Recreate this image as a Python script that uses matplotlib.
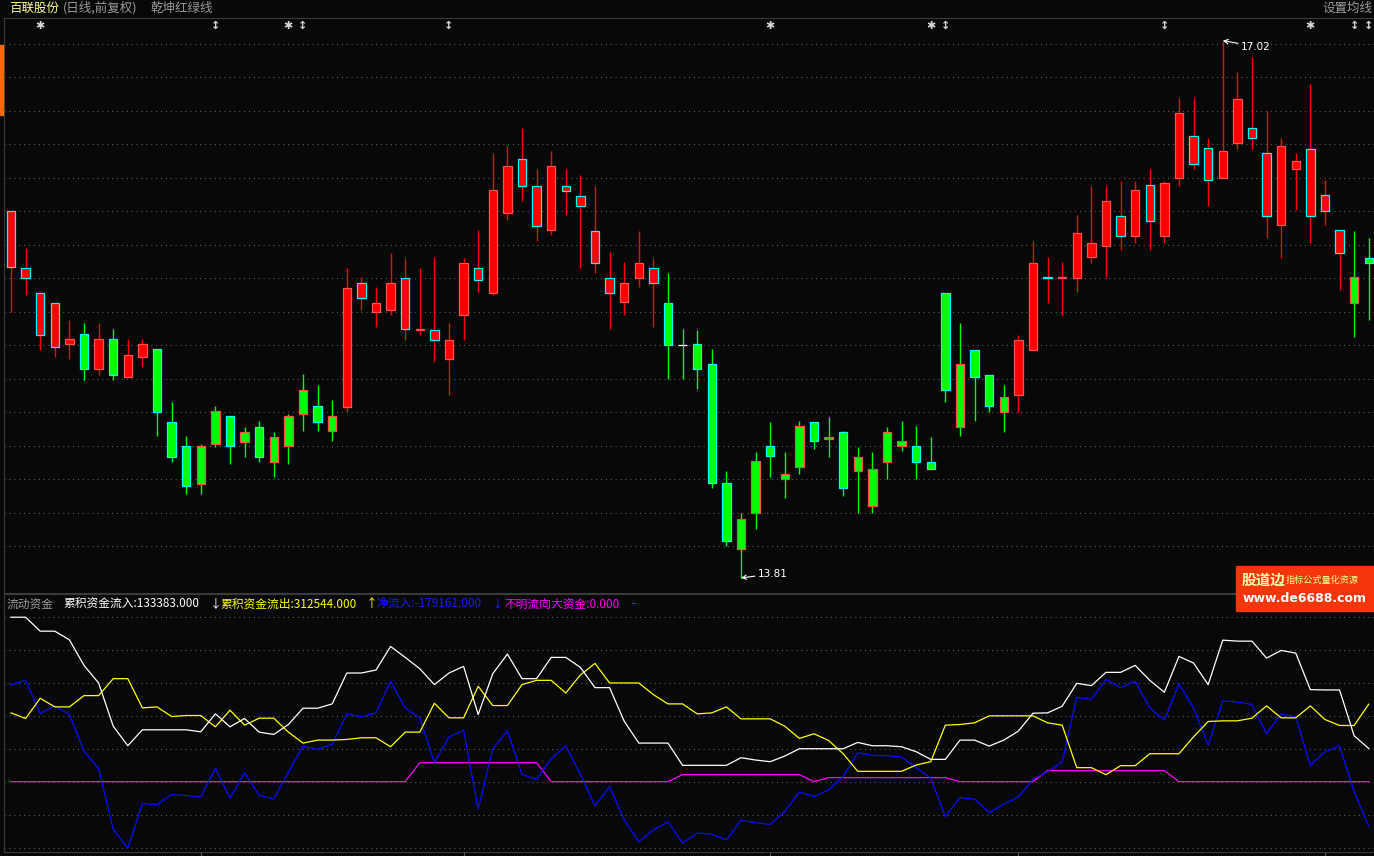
import numpy as np
import matplotlib.pyplot as plt
from matplotlib.patches import Rectangle

plt.rcParams['font.family'] = ['Noto Sans CJK SC', 'DejaVu Sans']

W, H = 1374, 856
BG = '#080808'

# ---- daily candles (price) ----
opens = [16.00, 15.66, 15.51, 15.45, 15.21, 15.27, 15.06, 15.24, 15.01, 15.13,
         15.18, 14.74, 14.60, 14.37, 14.61, 14.78, 14.62, 14.71, 14.50, 14.60,
         14.79, 14.84, 14.69, 14.83, 15.57, 15.40, 15.41, 15.60, 15.29, 15.29,
         15.12, 15.38, 15.66, 15.51, 15.99, 16.31, 16.15, 15.89, 16.15, 16.09,
         15.88, 15.60, 15.46, 15.60, 15.66, 15.45, 15.20, 15.21, 15.09, 14.38,
         13.98, 14.20, 14.60, 14.40, 14.47, 14.74, 14.64, 14.68, 14.45, 14.24,
         14.50, 14.60, 14.60, 14.50, 15.51, 14.71, 15.17, 15.02, 14.80, 14.90,
         15.17, 15.61, 15.60, 15.60, 15.73, 15.79, 15.97, 15.85, 16.16, 15.85,
         16.20, 16.45, 16.38, 16.20, 16.41, 16.50, 16.35, 15.92, 16.25, 16.37,
         16.10, 15.89, 15.45, 15.72]
highs = [16.00, 15.78, 15.52, 15.45, 15.35, 15.33, 15.33, 15.30, 15.24, 15.24,
         15.18, 14.86, 14.66, 14.61, 14.84, 14.78, 14.71, 14.75, 14.68, 14.79,
         15.03, 14.96, 14.87, 15.66, 15.61, 15.55, 15.75, 15.72, 15.66, 15.73,
         15.33, 15.72, 15.89, 16.35, 16.39, 16.50, 16.25, 16.36, 16.25, 16.22,
         16.15, 15.76, 15.70, 15.88, 15.72, 15.63, 15.30, 15.29, 15.18, 14.45,
         14.20, 14.56, 14.74, 14.56, 14.75, 14.74, 14.77, 14.69, 14.59, 14.56,
         14.71, 14.75, 14.72, 14.65, 15.51, 15.33, 15.17, 15.02, 14.96, 15.26,
         15.82, 15.73, 15.70, 15.98, 16.15, 16.15, 16.18, 16.18, 16.25, 16.18,
         16.68, 16.68, 16.44, 17.02, 16.83, 16.92, 16.60, 16.44, 16.35, 16.76,
         16.19, 15.89, 15.88, 15.84]
lows = [15.40, 15.50, 15.17, 15.13, 15.12, 14.99, 15.02, 14.99, 15.01, 15.07,
        14.66, 14.50, 14.31, 14.31, 14.59, 14.49, 14.53, 14.50, 14.41, 14.49,
        14.69, 14.69, 14.63, 14.80, 15.41, 15.31, 15.38, 15.23, 15.26, 15.10,
        14.90, 15.23, 15.52, 15.50, 15.95, 16.06, 15.82, 15.86, 15.98, 15.66,
        15.63, 15.30, 15.38, 15.55, 15.31, 15.00, 15.00, 14.94, 14.35, 14.00,
        13.81, 14.10, 14.41, 14.29, 14.43, 14.58, 14.53, 14.30, 14.20, 14.20,
        14.40, 14.57, 14.40, 14.46, 14.86, 14.66, 14.75, 14.80, 14.68, 14.80,
        15.17, 15.45, 15.38, 15.52, 15.69, 15.61, 15.77, 15.81, 15.77, 15.81,
        16.15, 16.25, 16.03, 16.20, 16.37, 16.37, 15.84, 15.72, 16.01, 15.81,
        15.92, 15.53, 15.25, 15.35]
closes = [15.67, 15.60, 15.26, 15.19, 15.24, 15.06, 15.24, 15.02, 15.14, 15.21,
          14.80, 14.53, 14.36, 14.60, 14.81, 14.60, 14.68, 14.53, 14.65, 14.78,
          14.93, 14.74, 14.78, 15.54, 15.48, 15.45, 15.57, 15.30, 15.30, 15.23,
          15.23, 15.69, 15.59, 16.13, 16.27, 16.15, 15.91, 16.27, 16.12, 16.03,
          15.69, 15.51, 15.57, 15.69, 15.57, 15.20, 15.20, 15.06, 14.38, 14.03,
          14.16, 14.51, 14.54, 14.43, 14.72, 14.63, 14.65, 14.35, 14.53, 14.46,
          14.68, 14.63, 14.50, 14.46, 14.93, 15.09, 15.01, 14.84, 14.89, 15.23,
          15.69, 15.60, 15.61, 15.87, 15.81, 16.06, 15.85, 16.13, 15.94, 16.17,
          16.59, 16.28, 16.19, 16.36, 16.67, 16.44, 15.97, 16.39, 16.30, 15.97,
          16.00, 15.75, 15.61, 15.69]
# red / green state of the 乾坤红绿线 indicator
trend_state = list("RRRRRGRGRR" "GGGGGGGGGGGGG" "RRRRRRRRRRRRRRRRRRRRRR"
                   "GGGGGGGGGGGGGGGGGGGGGGGG" "RRRRRRRRRRRRRRRRRRRRRRR" "GG")

marker_idx = [2, 14, 19, 20, 30, 52, 63, 64, 79, 89, 92, 93]
marker_sym = ['✱', '↕', '✱', '↕', '↕', '✱', '✱', '↕', '↕', '✱', '↕', '↕']
month_ticks = [13, 31, 52, 69, 90]

# ---- fund flow panel ----
inflow = [663300, 663300, 607020, 607020, 572180, 469000, 397980, 223780, 144720, 209040,
          209040, 209040, 209040, 201000, 273360, 221100, 254600, 199660, 190280, 230480,
          296140, 296140, 313560, 438180, 438180, 450240, 545380, 501160, 455600, 391280,
          438180, 464980, 270680, 435500, 514560, 415400, 415400, 501160, 501160, 460960,
          379220, 379220, 243880, 155440, 155440, 155440, 65660, 65660, 65660, 65660,
          96480, 87100, 80400, 103180, 132660, 132660, 132660, 132660, 158120, 144720,
          144720, 140700, 120600, 89780, 89780, 167500, 167500, 143380, 167500, 203680,
          276040, 277380, 304180, 396640, 387260, 440860, 440860, 469000, 408700, 360460,
          505180, 478380, 391280, 570840, 566820, 566820, 498480, 529300, 518580, 371180,
          369840, 369840, 184920, 133383]
outflow = [277380, 254600, 336340, 301500, 301500, 347060, 347060, 415400, 415400, 297480,
           301500, 262640, 266660, 266660, 221100, 288100, 227800, 255940, 255940, 199660,
           155440, 167500, 167500, 170180, 176880, 176880, 140700, 199660, 199660, 316240,
           257280, 257280, 384580, 306860, 306860, 391280, 408700, 408700, 357780, 430140,
           477040, 397980, 397980, 397980, 351080, 313560, 313560, 273360, 277380, 301500,
           253260, 253260, 253260, 223780, 174200, 192960, 166160, 112560, 41540, 41540,
           41540, 41540, 67000, 80400, 227800, 230480, 237180, 265320, 265320, 265320,
           265320, 237180, 227800, 56280, 56280, 28140, 64320, 64320, 112560, 112560,
           112560, 180900, 242540, 245220, 245220, 255940, 305520, 257280, 257280, 305520,
           250580, 226460, 226460, 312544]
netflow = [389940, 410040, 274700, 305520, 270680, 123280, 53600, -191620, -269340, -88440,
           -92460, -52260, -56280, -61640, 53600, -67000, 36180, -56280, -69680, 37520,
           143380, 129980, 150080, 273360, 261300, 277380, 404680, 297480, 257280, 76380,
           179560, 207700, -111220, 132660, 205020, 29480, 9380, 92460, 143380, 29480,
           -97820, -20100, -154100, -242540, -195640, -162140, -247900, -207700, -211720, -235840,
           -156780, -166160, -172860, -120600, -41540, -60300, -33500, 20100, 116580, 105860,
           104520, 99160, 56280, 13400, -140700, -64320, -71020, -124620, -91120, -61640,
           9380, 40200, 79060, 340360, 332320, 412720, 379220, 404680, 297480, 247900,
           393960, 297480, 147400, 325620, 321600, 310880, 192960, 273360, 261300, 65660,
           120600, 143380, -41540, -179161]
bigfund = [0, 0, 0, 0, 0, 0, 0, 0, 0, 0,
           0, 0, 0, 0, 0, 0, 0, 0, 0, 0,
           0, 0, 0, 0, 0, 0, 0, 0, 76380, 76380,
           76380, 76380, 76380, 76380, 76380, 76380, 76380, 0, 0, 0,
           0, 0, 0, 0, 0, 0, 28140, 28140, 28140, 28140,
           28140, 28140, 28140, 28140, 28140, 0, 16080, 16080, 16080, 16080,
           16080, 16080, 16080, 16080, 16080, 0, 0, 0, 0, 0,
           0, 44220, 44220, 44220, 44220, 44220, 44220, 44220, 44220, 44220,
           0, 0, 0, 0, 0, 0, 0, 0, 0, 0,
           0, 0, 0, 0]


def px(x, y):
    return x / W, 1 - y / H


def style_axes(ax):
    ax.set_facecolor(BG)
    ax.set_xlim(-0.48, 93.36)
    for s in ax.spines.values():
        s.set_color('#3a3a3a')
    ax.spines['right'].set_visible(False)
    ax.set_yticks([])
    ax.set_xticks([])


def main():
    fig = plt.figure(figsize=(W / 100, H / 100), dpi=100, facecolor=BG)
    ax1 = fig.add_axes([4 / W, 1 - 593 / H, (W - 4) / W, (593 - 18) / H])
    ax2 = fig.add_axes([4 / W, 1 - 852 / H, (W - 4) / W, (852 - 594) / H])
    style_axes(ax1)
    style_axes(ax2)

    o = np.array(opens)
    c = np.array(closes)
    x = np.arange(len(o))
    fills = ['#ff0000' if s == 'R' else '#00ff00' for s in trend_state]
    edges = ['#00ffff' if cc < oo else ('#ff5050' if cc > oo else '#ffffff')
             for oo, cc in zip(o, c)]

    ax1.set_ylim(13.72, 17.155)
    for p in np.arange(14.0, 17.01, 0.2):
        ax1.axhline(p, color='#5c5c5c', lw=0.8, ls=(0, (1, 3.4)), zorder=1)
    ax1.vlines(x, lows, highs, colors=fills, linewidth=1.0, zorder=2)
    ax1.bar(x, c - o, bottom=o, width=0.58, color=fills, edgecolor=edges,
            linewidth=0.9, zorder=3)

    for i, s in zip(marker_idx, marker_sym):
        ax1.text(i, 0.986, s, transform=ax1.get_xaxis_transform(), ha='center',
                 va='center', color='#d8d8d8', fontsize=8, fontweight='bold',
                 family='DejaVu Sans')

    hi = int(np.argmax(highs))
    lo = int(np.argmin(lows))
    ax1.annotate(f'{highs[hi]:.2f}', xy=(hi, highs[hi]), xytext=(13, -4.3),
                 textcoords='offset points', color='white', fontsize=7.5,
                 ha='left', va='center', family='DejaVu Sans',
                 arrowprops=dict(arrowstyle='->', color='white', lw=0.8,
                                 shrinkA=0, shrinkB=0))
    ax1.annotate(f'{lows[lo]:.2f}', xy=(lo, lows[lo]), xytext=(12, 2.9),
                 textcoords='offset points', color='white', fontsize=7.5,
                 ha='left', va='center', family='DejaVu Sans',
                 arrowprops=dict(arrowstyle='->', color='white', lw=0.8,
                                 shrinkA=0, shrinkB=0))

    # fund flow panel
    vmin = min(netflow)
    vmax = max(inflow)
    ax2.set_ylim(-284000, 757000)
    for g in np.linspace(vmin, vmax, 8):
        ax2.axhline(g, color='#5c5c5c', lw=0.8, ls=(0, (1, 3.4)), zorder=1)
    ax2.plot(x, bigfund, color='#ff00ff', lw=0.9, zorder=2)
    ax2.plot(x, netflow, color='#0a0aff', lw=0.9, zorder=3)
    ax2.plot(x, outflow, color='#ffff00', lw=0.9, zorder=4)
    ax2.plot(x, inflow, color='#ffffff', lw=0.9, zorder=5)
    ax2.set_xticks(month_ticks)
    ax2.tick_params(axis='x', length=3, color='#5a5a5a', labelbottom=False)

    # title row
    fig.text(*px(9, 8), '百联股份', color='#ffff88', fontsize=9, va='center')
    fig.text(*px(63, 8), '(日线,前复权)', color='#9a9a9a', fontsize=9, va='center')
    fig.text(*px(150, 8), '乾坤红绿线', color='#9a9a9a', fontsize=9, va='center')
    fig.text(*px(1372, 8), '设置均线', color='#9a9a9a', fontsize=9, va='center',
             ha='right')

    # fund flow legend row
    yy = 604
    fig.text(*px(7, yy), '流动资金', color='#9a9a9a', fontsize=8.5, va='center')
    fig.text(*px(63, yy), f'累积资金流入:{inflow[-1]:.3f}', color='white',
             fontsize=8.5, va='center')
    fig.text(*px(210, yy), '↓', color='white', fontsize=8.5, va='center')
    fig.text(*px(220, yy), f'累积资金流出:{outflow[-1]:.3f}', color='#ffff00',
             fontsize=8.5, va='center')
    fig.text(*px(366, yy), '↑', color='#ffff00', fontsize=8.5, va='center')
    fig.text(*px(376, yy), f'净流入:{netflow[-1]:.3f}', color='#1a1aff',
             fontsize=8.5, va='center')
    fig.text(*px(492, yy), '↓', color='#1a1aff', fontsize=8.5, va='center')
    fig.text(*px(504, yy), f'不明流向大资金:{bigfund[-1]:.3f}', color='#ff00ff',
             fontsize=8.5, va='center')
    fig.text(*px(631, yy), '-', color='#ff00ff', fontsize=8.5, va='center')

    # left edge marker and watermark
    fig.patches.append(Rectangle(px(0, 115), 3 / W, 70 / H, transform=fig.transFigure,
                                 color='#ff6a00', zorder=2))
    fig.patches.append(Rectangle(px(1236, 611), 138 / W, 45 / H,
                                 transform=fig.transFigure, color='#f4360a', zorder=2))
    fig.text(*px(1242, 580), '股道边', color='#ffffb0', fontsize=10.5,
             fontweight='bold', va='center', zorder=4)
    fig.text(*px(1286, 580), '指标公式量化资源', color='#ffff90', fontsize=6.6,
             va='center', zorder=4)
    fig.text(*px(1305, 598), 'www.de6688.com', color='white', fontsize=9,
             fontweight='bold', va='center', ha='center', family='DejaVu Sans',
             zorder=4)

    fig.savefig('out.png', dpi=100, facecolor=BG)


if __name__ == '__main__':
    main()
